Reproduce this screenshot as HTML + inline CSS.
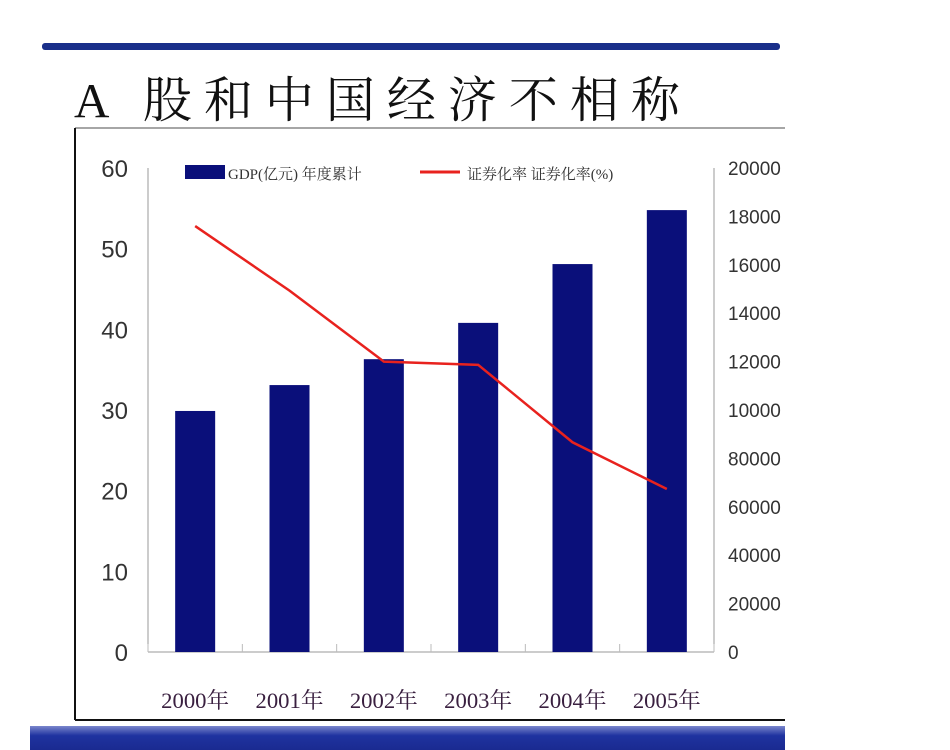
<!DOCTYPE html>
<html><head><meta charset="utf-8"><style>
body{margin:0;width:950px;height:750px;background:#fff;overflow:hidden;position:relative;font-family:"Liberation Serif","Noto Serif CJK SC",serif}
</style></head><body>
<div style="position:absolute;left:42px;top:43px;width:738px;height:7px;background:#1a2f8a;border-radius:3px"></div>
<div style="position:absolute;left:74px;top:62px;font-size:49px;letter-spacing:12px;color:#111;font-family:'Liberation Serif','Noto Serif CJK SC',serif;white-space:nowrap">A 股和中国经济不相称</div>
<div style="position:absolute;left:30px;top:726px;width:755px;height:24px;background:linear-gradient(#7a86cc,#1f33a0 40%,#1a2a90)"></div>
<svg width="950" height="750" style="position:absolute;left:0;top:0">
<line x1="75" y1="128" x2="785" y2="128" stroke="#888" stroke-width="1.5"/>
<line x1="75" y1="128" x2="75" y2="720" stroke="#111" stroke-width="2"/>
<line x1="75" y1="720" x2="785" y2="720" stroke="#111" stroke-width="2"/>
<g id="g"></g>
</svg>
<script>
const years=["2000年","2001年","2002年","2003年","2004年","2005年"];
const gdp=[9960,11030,12100,13600,16030,18260];
const rate=[52.8,44.8,36.0,35.6,26.0,20.2];
const leftTicks=[0,10,20,30,40,50,60];
const rightTickVals=[0,2000,4000,6000,8000,10000,12000,14000,16000,18000,20000];
const rightTickLabels=["0","20000","40000","60000","80000","10000","12000","14000","16000","18000","20000"];
const NS="http://www.w3.org/2000/svg",g=document.getElementById('g');
const X0=148,X1=714,Y0=652,YT=168;
const yL=v=>Y0-(v/60)*(Y0-YT);
const yR=v=>Y0-(v/20000)*(Y0-YT);
const bw=(X1-X0)/years.length;
const xc=i=>X0+bw*(i+0.5);
function mk(t,a,p){const e=document.createElementNS(NS,t);for(const k in a)e.setAttribute(k,a[k]);(p||g).appendChild(e);return e}
const ax1=mk('line',{x1:X0,y1:YT,x2:X0,y2:Y0,stroke:'#999'});


const ax2=mk('line',{x1:X1,y1:YT,x2:X1,y2:Y0,stroke:'#999'});


const ax3=mk('line',{x1:X0,y1:Y0,x2:X1,y2:Y0,stroke:'#999'});


for(let i=0;i<=years.length;i++){const t=mk('line',{x1:X0+bw*i,y1:Y0-8,x2:X0+bw*i,y2:Y0,stroke:'#bbb'});

}
leftTicks.forEach(v=>{const t=mk('text',{x:128,y:yL(v)+9,'text-anchor':'end','font-size':24,fill:'#333','font-family':'Liberation Sans Narrow, Liberation Sans, sans-serif'});t.textContent=v;

});
rightTickVals.forEach((v,i)=>{const t=mk('text',{x:728,y:yR(v)+7,'font-size':19,fill:'#333','font-family':'Liberation Sans Narrow, Liberation Sans, sans-serif'});t.textContent=rightTickLabels[i];

});
gdp.forEach((v,i)=>{const b=mk('rect',{x:xc(i)-20,y:yR(v),width:40,height:Y0-yR(v),fill:'#0a0f7a'});

});
const pl=mk('polyline',{points:rate.map((v,i)=>xc(i)+','+yL(v)).join(' '),fill:'none',stroke:'#e8221e','stroke-width':2.5});


years.forEach((y,i)=>{const t=mk('text',{x:xc(i),y:708,'text-anchor':'middle','font-size':22,fill:'#3a2040','font-family':'Liberation Serif, Noto Serif CJK SC, serif',textLength:68,lengthAdjust:'spacingAndGlyphs'});t.textContent=y;

});
const lg=mk('rect',{x:185,y:165,width:40,height:14,fill:'#0a0f7a'});


const lt=mk('text',{x:228,y:179,'font-size':15,fill:'#333'});lt.textContent='GDP(亿元) 年度累计';


const ll=mk('line',{x1:420,y1:172,x2:460,y2:172,stroke:'#e8221e','stroke-width':3});


const lt2=mk('text',{x:467,y:179,'font-size':15,fill:'#333'});lt2.textContent='证券化率 证券化率(%)';


</script>
</body></html>
